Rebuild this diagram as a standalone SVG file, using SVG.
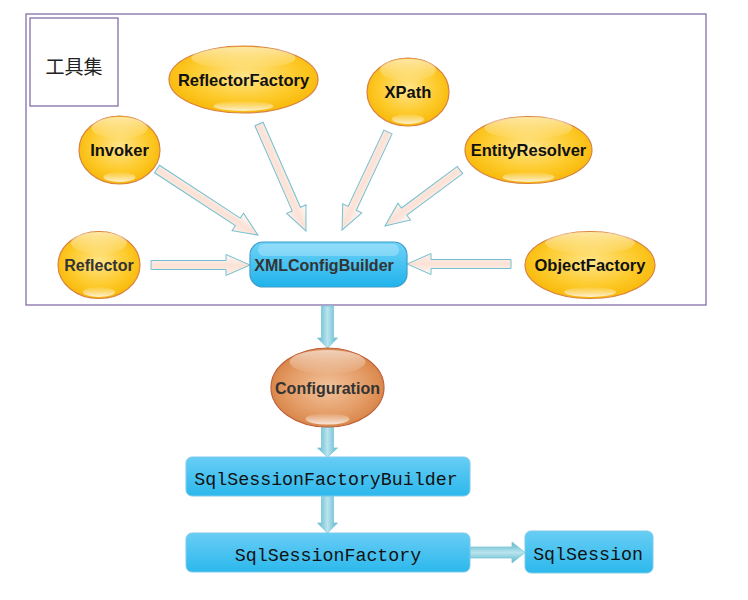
<svg xmlns="http://www.w3.org/2000/svg" width="748" height="600" viewBox="0 0 748 600">
<defs>
  <radialGradient id="gYel" cx="0.5" cy="0.45" r="0.6">
    <stop offset="0" stop-color="#ffe48a"/>
    <stop offset="0.6" stop-color="#fdca2a"/>
    <stop offset="1" stop-color="#f7b400"/>
  </radialGradient>
  <radialGradient id="gOra" cx="0.5" cy="0.5" r="0.6">
    <stop offset="0" stop-color="#f2c39c"/>
    <stop offset="0.6" stop-color="#e39a63"/>
    <stop offset="1" stop-color="#d27a3a"/>
  </radialGradient>
  <linearGradient id="gHi" x1="0" y1="0" x2="0" y2="1">
    <stop offset="0" stop-color="#ffffff" stop-opacity="0.6"/>
    <stop offset="1" stop-color="#ffffff" stop-opacity="0.03"/>
  </linearGradient>
  <linearGradient id="gHiB" x1="0" y1="1" x2="0" y2="0">
    <stop offset="0" stop-color="#ffffff" stop-opacity="0.8"/>
    <stop offset="1" stop-color="#ffffff" stop-opacity="0.05"/>
  </linearGradient>
  <linearGradient id="gBlue" x1="0" y1="0" x2="0" y2="1">
    <stop offset="0" stop-color="#6fd2f8"/>
    <stop offset="1" stop-color="#20b3eb"/>
  </linearGradient>
  <linearGradient id="gBlue2" x1="0" y1="0" x2="0" y2="1">
    <stop offset="0" stop-color="#68cdf5"/>
    <stop offset="1" stop-color="#2cb8ec"/>
  </linearGradient>
  <linearGradient id="gArrV" x1="0" y1="0" x2="1" y2="0">
    <stop offset="0" stop-color="#5bb5cc"/>
    <stop offset="0.5" stop-color="#b9e4ee"/>
    <stop offset="1" stop-color="#5bb5cc"/>
  </linearGradient>
  <linearGradient id="gArrH" x1="0" y1="0" x2="0" y2="1">
    <stop offset="0" stop-color="#5bb5cc"/>
    <stop offset="0.5" stop-color="#b9e4ee"/>
    <stop offset="1" stop-color="#5bb5cc"/>
  </linearGradient>
  <linearGradient id="gPeach" x1="0" y1="0" x2="0" y2="1">
    <stop offset="0" stop-color="#fffaf7"/>
    <stop offset="0.5" stop-color="#fbe1d6"/>
    <stop offset="1" stop-color="#fdf0ea"/>
  </linearGradient>
</defs>
<style>
  .frame{fill:#fff;stroke:#7a62a3;stroke-width:1.2}
  .yel{fill:url(#gYel);stroke:#d9823f;stroke-width:1.2}
  .ora{fill:url(#gOra);stroke:#c0603a;stroke-width:1.2}
  .hi{fill:url(#gHi)}
  .hib{fill:url(#gHiB)}
  .blue{fill:url(#gBlue);stroke:#3f9dc9;stroke-width:1.2}
  .blue2{fill:url(#gBlue2);stroke:#7fcbe9;stroke-width:1}
  .peach{fill:url(#gPeach);stroke:#72bfd0;stroke-width:1}
  .av{fill:url(#gArrV);stroke:#7fc6d8;stroke-width:0.8}
  .ah{fill:url(#gArrH);stroke:#7fc6d8;stroke-width:0.8}
  .cal{font-family:"Liberation Sans",Arial,sans-serif;font-weight:bold;font-size:16.5px;fill:#111;text-anchor:middle}
  .ari{font-family:"Liberation Sans",Arial,sans-serif;font-weight:bold;font-size:16px;fill:#333;text-anchor:middle}
  .mono{font-family:"Liberation Mono","Courier New",monospace;font-size:18.3px;fill:#111;text-anchor:middle}
  .cjk{font-family:"Noto Sans CJK SC",sans-serif;font-size:19px;fill:#222;text-anchor:middle}
</style>

<g id="toolset">
  <rect class="frame" x="26" y="14" width="680" height="291"/>
  <rect class="frame" x="30" y="18" width="88" height="88"/>
  <text class="cjk" x="74" y="74">工具集</text>
</g>

<g id="connectors">
  <path class="peach" transform="translate(151,265) rotate(0)" d="M0,-4.5 L75,-4.5 L75,-10.5 L99,0 L75,10.5 L75,4.5 L0,4.5 Z"/>
  <path class="peach" transform="translate(511,264) rotate(180)" d="M0,-4.5 L80,-4.5 L80,-10.5 L104,0 L80,10.5 L80,4.5 L0,4.5 Z"/>
  <path class="peach" transform="translate(157,169) rotate(33.2)" d="M0,-4.5 L96.6,-4.5 L96.6,-10.5 L120.6,0 L96.6,10.5 L96.6,4.5 L0,4.5 Z"/>
  <path class="peach" transform="translate(259,124) rotate(66.3)" d="M0,-4.5 L92.9,-4.5 L92.9,-10.5 L116.9,0 L92.9,10.5 L92.9,4.5 L0,4.5 Z"/>
  <path class="peach" transform="translate(388,132) rotate(115.1)" d="M0,-4.5 L84.3,-4.5 L84.3,-10.5 L108.3,0 L84.3,10.5 L84.3,4.5 L0,4.5 Z"/>
  <path class="peach" transform="translate(460,170) rotate(143.3)" d="M0,-4.5 L69.6,-4.5 L69.6,-10.5 L93.6,0 L69.6,10.5 L69.6,4.5 L0,4.5 Z"/>
  <path class="av" d="M321.5,306 L333.5,306 L333.5,338 L337.5,338 L327.5,348 L317.5,338 L321.5,338 Z"/>
  <path class="av" d="M321.5,427 L333.5,427 L333.5,448 L337.5,448 L327.5,457 L317.5,448 L321.5,448 Z"/>
  <path class="av" d="M321.5,496 L333.5,496 L333.5,523 L337.5,523 L327.5,533 L317.5,523 L321.5,523 Z"/>
  <path class="ah" d="M470,547 L512,547 L512,542 L525,552.5 L512,563 L512,558 L470,558 Z"/>
</g>

<g id="ReflectorFactory">
  <ellipse class="yel" cx="243.5" cy="79.5" rx="74.5" ry="33.5"/>
  <ellipse class="hi" cx="243.5" cy="58" rx="52" ry="11"/>
  <ellipse class="hib" cx="243.5" cy="106" rx="30" ry="5"/>
  <text class="cal" x="243.5" y="85.5">ReflectorFactory</text>
</g>
<g id="XPath">
  <ellipse class="yel" cx="408" cy="92" rx="41" ry="34"/>
  <ellipse class="hi" cx="408" cy="70" rx="28" ry="11"/>
  <ellipse class="hib" cx="408" cy="119" rx="16" ry="5"/>
  <text class="cal" x="408" y="98">XPath</text>
</g>
<g id="EntityResolver">
  <ellipse class="yel" cx="528.5" cy="150" rx="63.5" ry="33.5"/>
  <ellipse class="hi" cx="528.5" cy="128" rx="44" ry="11"/>
  <ellipse class="hib" cx="528.5" cy="177" rx="26" ry="5"/>
  <text class="cal" x="528.5" y="156">EntityResolver</text>
</g>
<g id="Invoker">
  <ellipse class="yel" cx="119.5" cy="150" rx="40.5" ry="34"/>
  <ellipse class="hi" cx="119.5" cy="128" rx="28" ry="11"/>
  <ellipse class="hib" cx="119.5" cy="177" rx="16" ry="5"/>
  <text class="cal" x="119.5" y="156">Invoker</text>
</g>
<g id="Reflector">
  <ellipse class="yel" cx="99" cy="265" rx="41" ry="33.5"/>
  <ellipse class="hi" cx="99" cy="243" rx="28" ry="11"/>
  <ellipse class="hib" cx="99" cy="292" rx="16" ry="5"/>
  <text class="ari" x="99" y="271">Reflector</text>
</g>
<g id="ObjectFactory">
  <ellipse class="yel" cx="590" cy="265" rx="65" ry="33.5"/>
  <ellipse class="hi" cx="590" cy="243" rx="45" ry="11"/>
  <ellipse class="hib" cx="590" cy="292" rx="26" ry="5"/>
  <text class="cal" x="590" y="271">ObjectFactory</text>
</g>
<g id="XMLConfigBuilder">
  <rect class="blue" x="250" y="242" width="157" height="45" rx="13"/>
  <rect x="258" y="244" width="141" height="12" rx="6" fill="#ffffff" fill-opacity="0.25"/>
  <text class="ari" x="324" y="271" font-size="17">XMLConfigBuilder</text>
</g>
<g id="Configuration">
  <ellipse class="ora" cx="327.5" cy="387.5" rx="56.5" ry="39.5"/>
  <ellipse class="hi" cx="327.5" cy="362" rx="38" ry="12"/>
  <ellipse class="hib" cx="327.5" cy="419" rx="22" ry="5.5"/>
  <text class="ari" x="327.5" y="393.5">Configuration</text>
</g>
<g id="SqlSessionFactoryBuilder">
  <rect class="blue2" x="186" y="457" width="284" height="39" rx="6"/>
  <text class="mono" x="326" y="485">SqlSessionFactoryBuilder</text>
</g>
<g id="SqlSessionFactory">
  <rect class="blue2" x="186" y="533" width="284" height="39" rx="6"/>
  <text class="mono" x="328" y="561">SqlSessionFactory</text>
</g>
<g id="SqlSession">
  <rect class="blue2" x="525" y="531" width="128" height="42" rx="6"/>
  <text class="mono" x="588" y="560">SqlSession</text>
</g>
</svg>
